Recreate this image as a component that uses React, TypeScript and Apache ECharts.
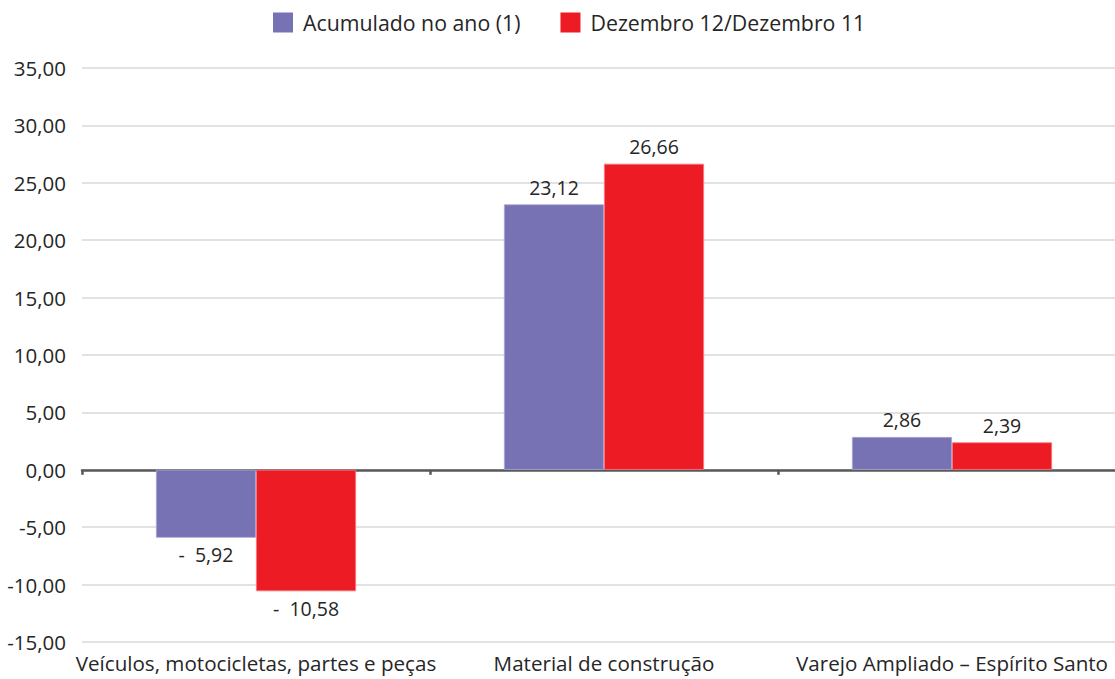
import React, { useEffect, useRef } from "react";
import * as echarts from "echarts";

const categories = [
  "Veículos, motocicletas, partes e peças",
  "Material de construção",
  "Varejo Ampliado – Espírito Santo",
];
const seriesNames = ["Acumulado no ano (1)", "Dezembro 12/Dezembro 11"];
const acumulado = [-5.92, 23.12, 2.86];
const dezembro = [-10.58, 26.66, 2.39];
const colors = ["#7672B4", "#ED1C24"];

const FONT = "'Open Sans', 'Noto Sans', sans-serif";

function fmt(v: number): string {
  const s = Math.abs(v).toFixed(2).replace(".", ",");
  return v < 0 ? "-  " + s : s;
}

function toData(arr: number[]) {
  return arr.map((v) => ({
    value: v,
    label: { position: v < 0 ? "bottom" : "top" },
  }));
}

export default function App() {
  const ref = useRef<HTMLDivElement>(null);
  useEffect(() => {
    if (!ref.current) return;
    const chart = echarts.init(ref.current, null, { renderer: "svg" });
    const labelCfg = {
      show: true,
      distance: 7,
      fontSize: 19.5,
      fontFamily: FONT,
      color: "#262626",
      formatter: (p: any) => fmt(p.value),
    };
    chart.setOption({
      animation: false,
      textStyle: { fontFamily: FONT },
      legend: {
        top: 7,
        left: 268,
        itemWidth: 20,
        itemHeight: 20,
        itemGap: 40,
        icon: "rect",
        itemStyle: { borderWidth: 0 },
        textStyle: { fontSize: 21.3, color: "#262626", fontFamily: FONT, padding: [0, 0, 0, 5] },
        data: seriesNames,
      },
      grid: { left: 82, top: 68, width: 1044, height: 574, outerBoundsMode: "none", containLabel: false },
      xAxis: [
        {
          type: "category",
          data: categories,
          axisLine: { onZero: true, lineStyle: { color: "#595959", width: 2.5 } },
          axisTick: { show: true, length: 5, lineStyle: { color: "#595959", width: 2.5 } },
          axisLabel: { show: false },
        },
        {
          type: "category",
          data: categories,
          position: "bottom",
          axisLine: { show: false, onZero: false },
          axisTick: { show: false },
          axisLabel: {
            show: true,
            interval: 0,
            hideOverlap: false,
            margin: 10,
            fontSize: 20.6,
            fontFamily: FONT,
            color: "#262626",
          },
        },
      ],
      yAxis: {
        type: "value",
        min: -15,
        max: 35,
        interval: 5,
        axisLine: { show: false },
        axisTick: { show: false },
        splitLine: { lineStyle: { color: "#d9d9d9", width: 1.5 } },
        axisLabel: {
          margin: 16,
          fontSize: 20.5,
          fontFamily: FONT,
          color: "#262626",
          formatter: (v: number) => v.toFixed(2).replace(".", ","),
        },
      },
      series: [
        {
          name: seriesNames[0],
          type: "bar",
          xAxisIndex: 0,
          data: toData(acumulado),
          barGap: "0%",
          barCategoryGap: "42.5%",
          itemStyle: { color: colors[0], borderColor: "#a9a6d6", borderWidth: 0.8 },
          label: labelCfg,
        },
        {
          name: seriesNames[1],
          type: "bar",
          xAxisIndex: 0,
          data: toData(dezembro),
          barGap: "0%",
          barCategoryGap: "42.5%",
          itemStyle: { color: colors[1], borderColor: "#f47a80", borderWidth: 0.8 },
          label: labelCfg,
        },
      ],
    });
    return () => chart.dispose();
  }, []);
  return (
    <div
      ref={ref}
      style={{ position: "absolute", left: 0, top: 0, width: 1115, height: 679, background: "#fff" }}
    />
  );
}
